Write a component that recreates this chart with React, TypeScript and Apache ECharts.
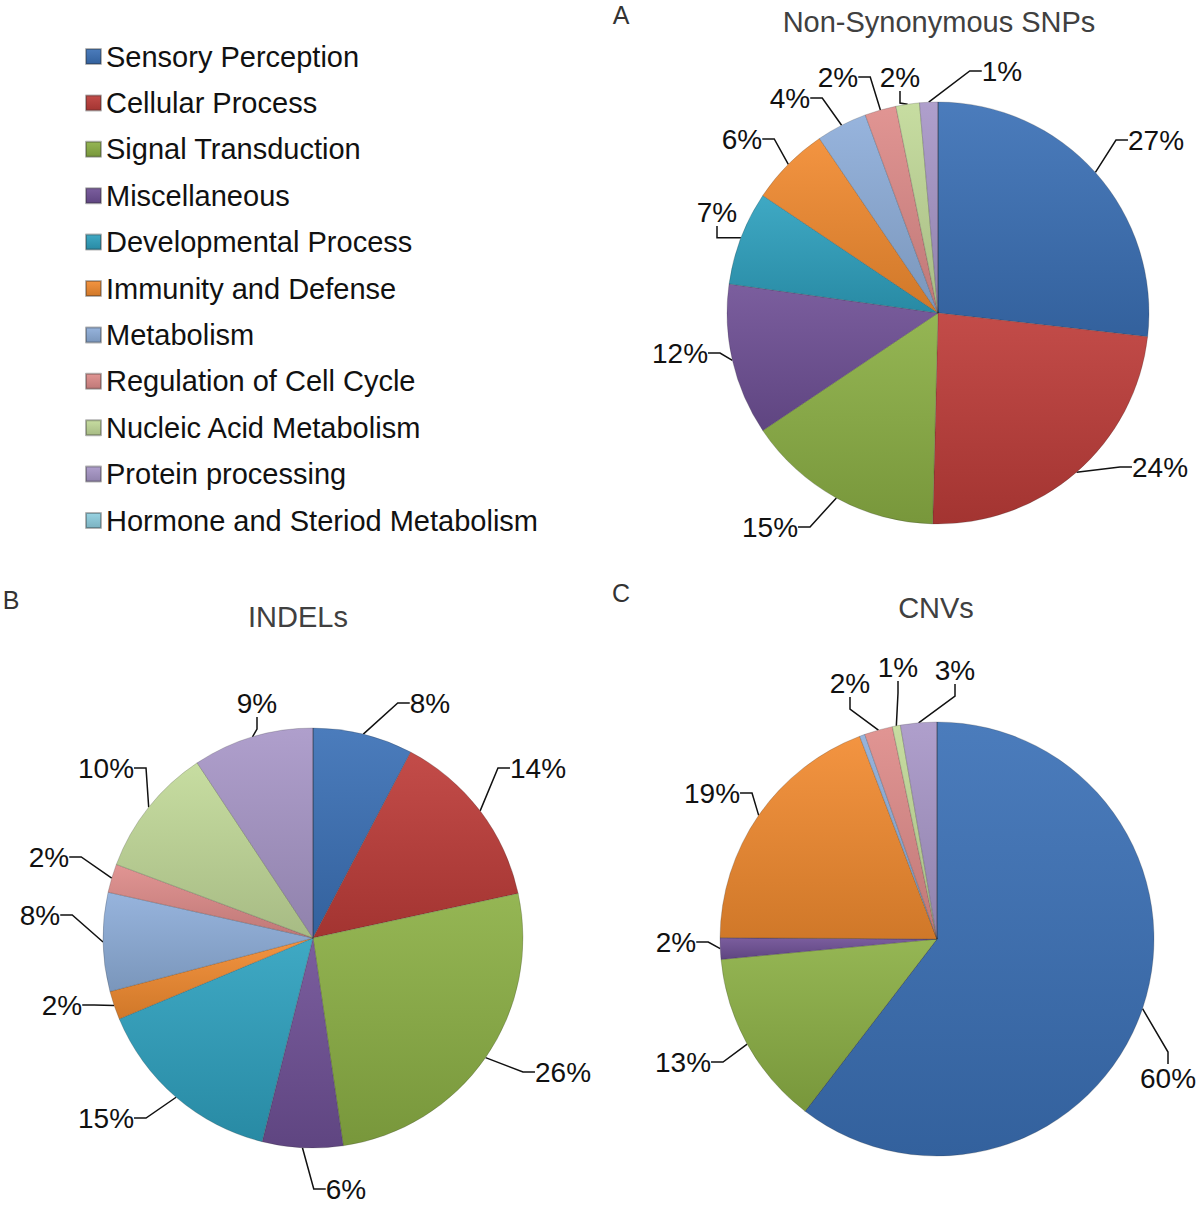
import React, { useEffect, useRef } from "react";
import * as echarts from "echarts";

const categories = [
  "Sensory Perception",
  "Cellular Process",
  "Signal Transduction",
  "Miscellaneous",
  "Developmental Process",
  "Immunity and Defense",
  "Metabolism",
  "Regulation of Cell Cycle",
  "Nucleic Acid Metabolism",
  "Protein processing",
  "Hormone and Steriod Metabolism",
];

// percentages (clockwise from 12 o'clock)
const snpValues = [26.8, 23.6, 15.2, 11.6, 7.2, 6.1, 3.9, 2.4, 1.8, 1.4, 0];
const indelValues = [7.7, 13.9, 26.1, 6.2, 14.8, 2.2, 7.6, 2.2, 10.0, 9.3, 0];
const cnvValues = [60.4, 0, 13.1, 1.6, 0, 19.1, 0.4, 2.1, 0.6, 2.7, 0];

const chartTitles = ["Non-Synonymous SNPs", "INDELs", "CNVs"];
const panelLetters = ["A", "B", "C"];

const baseColors = [
  "#3B71B6",
  "#BE3C39",
  "#8CB045",
  "#6F5096",
  "#2EA1BF",
  "#F28B30",
  "#8EAEDA",
  "#DE8C8A",
  "#C2DA99",
  "#A897C8",
  "#8FCFE0",
];

const FONT = "Liberation Sans, Arial, Helvetica, sans-serif";

// hand-placed label spots (layout only), one per category
const snpLabelSpots: ([number, number] | null)[] = [
  [1156, 140], [1160, 467], [770, 527], [680, 353], [717, 212],
  [742, 139], [790, 98], [838, 77], [900, 77], [1002, 71], null,
];
const indelLabelSpots: ([number, number] | null)[] = [
  [430, 703], [538, 768], [563, 1072], [346, 1189], [106, 1118],
  [62, 1005], [40, 915], [49, 857], [106, 768], [257, 703], null,
];
const cnvLabelSpots: ([number, number] | null)[] = [
  [1168, 1078], null, [683, 1062], [676, 942], null, [712, 793],
  null, [850, 683], [898, 667], [955, 670], null,
];

function shade(hex: string, amt: number): string {
  const n = parseInt(hex.slice(1), 16);
  const f = (c: number) =>
    Math.max(0, Math.min(255, Math.round(amt >= 0 ? c + (255 - c) * amt : c * (1 + amt))));
  const r = f((n >> 16) & 255);
  const g = f((n >> 8) & 255);
  const b = f(n & 255);
  return "#" + ((1 << 24) + (r << 16) + (g << 8) + b).toString(16).slice(1);
}

function gradient(hex: string) {
  return {
    type: "linear",
    x: 0,
    y: 0,
    x2: 0,
    y2: 1,
    colorStops: [
      { offset: 0, color: shade(hex, 0.08) },
      { offset: 1, color: shade(hex, -0.14) },
    ],
  };
}

function buildData(values: number[]) {
  const total = values.reduce((a, b) => a + b, 0);
  return values.map((v, i) => {
    const pct = Math.round((v / total) * 100);
    const show = pct >= 1;
    return {
      name: categories[i],
      value: v,
      itemStyle: { color: gradient(baseColors[i]) },
      label: { show },
      labelLine: { show },
    };
  });
}

function pieSeries(
  values: number[],
  cx: number,
  cy: number,
  r: number,
  spots: ([number, number] | null)[]
) {
  return {
    type: "pie",
    center: [cx, cy],
    radius: [0, r],
    startAngle: 90,
    clockwise: true,
    data: buildData(values),
    itemStyle: {
      borderColor: "rgba(40,40,40,0.35)",
      borderWidth: 0.6,
    },
    label: {
      show: true,
      position: "outside",
      formatter: (p: any) => Math.round(p.percent) + "%",
      color: "#111",
      fontFamily: FONT,
      fontSize: 28,
      overflow: "none",
      distanceToLabelLine: 3,
    },
    labelLine: {
      show: true,
      length: 14,
      length2: 12,
      smooth: false,
      lineStyle: { color: "#111", width: 1.5 },
    },
    labelLayout: (p: any) => {
      const s = spots[p.dataIndex];
      if (!s) return {};
      return { x: s[0], y: s[1], align: "center", verticalAlign: "middle" };
    },
    emphasis: { disabled: true },
  };
}

function textEl(text: string, x: number, y: number, size: number, fill: string) {
  return {
    type: "text",
    x,
    y,
    style: {
      text,
      font: `${size}px ${FONT}`,
      fill,
      align: "center",
      verticalAlign: "middle",
    },
  };
}

export default function App() {
  const ref = useRef<HTMLDivElement>(null);

  useEffect(() => {
    if (!ref.current) return;
    const chart = echarts.init(ref.current, undefined, { renderer: "svg" });
    const option: any = {
      animation: false,
      backgroundColor: "#ffffff",
      color: baseColors,
      legend: {
        orient: "vertical",
        left: 80,
        top: 37,
        data: categories,
        icon: "rect",
        itemWidth: 15,
        itemHeight: 15,
        itemGap: 17.4,
        selectedMode: false,
        textStyle: {
          fontFamily: FONT,
          fontSize: 29,
          color: "#111",
          lineHeight: 29,
          padding: [0, 0, 0, 0],
        },
      },
      graphic: [
        textEl(chartTitles[0], 939, 22, 29, "#404040"),
        textEl(chartTitles[1], 298, 617, 29, "#404040"),
        textEl(chartTitles[2], 936, 608, 29, "#404040"),
        textEl(panelLetters[0], 621, 15, 25, "#333"),
        textEl(panelLetters[1], 11, 600, 25, "#333"),
        textEl(panelLetters[2], 621, 593, 25, "#333"),
      ],
      series: [
        pieSeries(snpValues, 938, 313, 211, snpLabelSpots),
        pieSeries(indelValues, 313, 938, 210, indelLabelSpots),
        pieSeries(cnvValues, 937, 939, 217, cnvLabelSpots),
      ],
    };
    chart.setOption(option);
    return () => chart.dispose();
  }, []);

  return (
    <div
      ref={ref}
      style={{ position: "absolute", left: 0, top: 0, width: 1200, height: 1206 }}
    />
  );
}
